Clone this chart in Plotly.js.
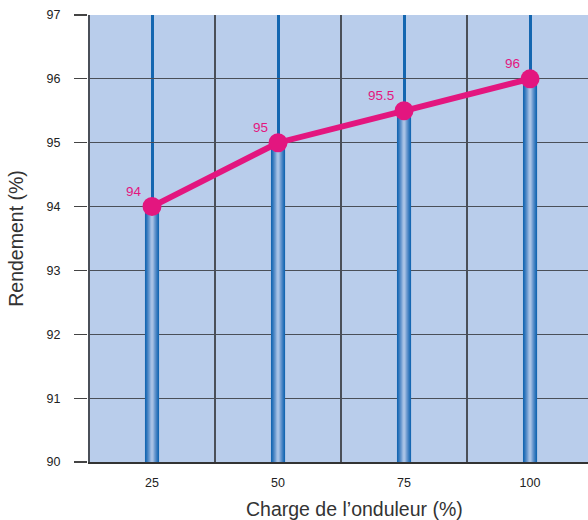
<!DOCTYPE html>
<html>
<head>
<meta charset="utf-8">
<script src="https://cdn.plot.ly/plotly-3.0.1.min.js"></script>
<style>html,body{margin:0;padding:0;background:#fff;overflow:hidden}</style>
</head>
<body>
<div id="chart" style="width:588px;height:520px"></div>
<script>
// Data
const charge = [25, 50, 75, 100];
const rendement = [94, 95, 95.5, 96];
const chargeLabels = ["25", "50", "75", "100"];
const valueLabels = ["94", "95", "95.5", "96"];
const xTitle = "Charge de l\u2019onduleur (%)";
const yTitle = "Rendement (%)";

const magenta = "#e3167f";
const font = "Liberation Sans, Arial, sans-serif";

// Cylinder-like gradient for bars using overlaid layers
const layers = [
  {w: 2.8, c: "#1667b2"},
  {w: 2.3, c: "#2f76bb"},
  {w: 1.8, c: "#5289c6"},
  {w: 1.3, c: "#739fd2"},
  {w: 0.8, c: "#92b3dd"},
  {w: 0.35, c: "#a9c3e6"}
];
const traces = layers.map(l => ({
  type: "bar", x: charge, y: rendement, width: l.w,
  marker: {color: l.c, line: {width: 0}},
  hoverinfo: "skip", showlegend: false
}));

traces.push({
  type: "scatter", mode: "lines+markers",
  x: charge, y: rendement,
  line: {color: magenta, width: 6},
  marker: {color: magenta, size: 19},
  cliponaxis: false,
  showlegend: false
});

const labelAnns = charge.map((c, i) => ({
  x: c, y: rendement[i], xref: "x", yref: "y",
  text: valueLabels[i], showarrow: false,
  xanchor: "right", yanchor: "bottom",
  xshift: -8, yshift: 6,
  font: {size: 13.5, color: magenta, family: font}
}));

const layout = {
  width: 588, height: 520,
  margin: {l: 88, r: 0, t: 15, b: 58},
  paper_bgcolor: "#ffffff",
  plot_bgcolor: "#b9cdeb",
  barmode: "overlay",
  font: {family: font, color: "#222"},
  showlegend: false,
  xaxis: {
    type: "linear",
    range: [12.3, 111.5],
    tickvals: charge,
    ticktext: chargeLabels,
    ticks: "",
    showgrid: true,
    gridcolor: "#1466b0",
    gridwidth: 3,
    minor: {tick0: 12.5, dtick: 25, showgrid: true, gridcolor: "#4a4f58", gridwidth: 1.2, ticks: ""},
    zeroline: false,
    showline: true,
    linecolor: "#333",
    linewidth: 1.5,
    tickfont: {size: 12.5, color: "#222"},
    ticklabelstandoff: 8,
    fixedrange: true
  },
  yaxis: {
    range: [90, 97],
    dtick: 1,
    tick0: 90,
    ticks: "outside",
    ticklen: 13,
    tickcolor: "#444",
    tickwidth: 1.2,
    showgrid: true,
    gridcolor: "#4a4f58",
    gridwidth: 1.2,
    zeroline: false,
    showline: false,
    tickfont: {size: 12.5, color: "#222"},
    ticklabelstandoff: 11,
    title: {text: yTitle, font: {size: 19.5, color: "#333"}, standoff: 17},
    fixedrange: true
  },
  annotations: labelAnns.concat([{
    text: xTitle, xref: "paper", yref: "paper",
    x: (354 - 88) / 500, y: -(509 - 462) / 447,
    xanchor: "center", yanchor: "middle", showarrow: false,
    font: {size: 19.5, color: "#333", family: font}
  }])
};

Plotly.newPlot("chart", traces, layout, {displayModeBar: false, staticPlot: true});
</script>
</body>
</html>
